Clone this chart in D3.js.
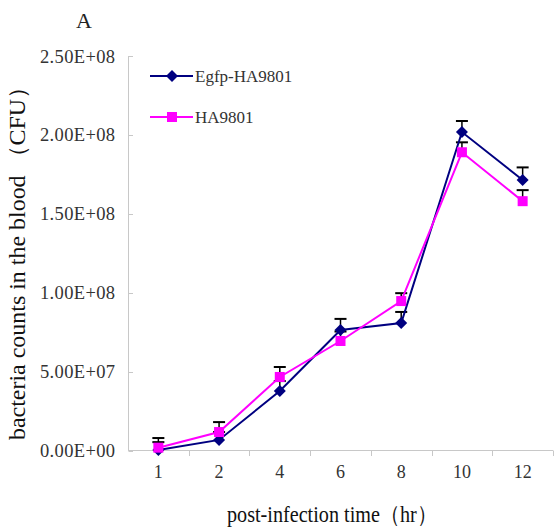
<!DOCTYPE html>
<html>
<head>
<meta charset="utf-8">
<script src="https://cdn.jsdelivr.net/npm/d3@7/dist/d3.min.js"></script>
<style>
  html, body { margin: 0; padding: 0; background: #fff; }
  svg { display: block; }
  svg text { font-family: "Liberation Serif", "DejaVu Serif", serif; }
</style>
</head>
<body>
<svg id="chart" width="556" height="530"></svg>
<script>
const categories = ["1", "2", "4", "6", "8", "10", "12"];
const egfpValues = [0.3e6, 6.7e6, 3.77e7, 7.64e7, 8.08e7, 2.018e8, 1.714e8];
const egfpErrors = [5e6, 5e6, 6.3e6, 7e6, 7e6, 7e6, 8e6];
const haValues = [1.8e6, 1.17e7, 4.66e7, 6.94e7, 9.47e7, 1.89e8, 1.58e8];
const haErrors = [6.1e6, 6.3e6, 6.3e6, 6e6, 5e6, 6.3e6, 7e6];
const yTicks = [0, 5e7, 1e8, 1.5e8, 2e8, 2.5e8];
const seriesNames = ["Egfp-HA9801", "HA9801"];

const svg = d3.select("#chart");

const x = d3.scaleBand().domain(categories).range([128, 553]).padding(0);
const y = d3.scaleLinear().domain([0, 2.5e8]).range([450.5, 56]);

function fmtE(v) {
  if (v === 0) return "0.00E+00";
  const e = Math.floor(Math.log10(v));
  const m = v / Math.pow(10, e);
  return m.toFixed(2) + "E+" + String(e).padStart(2, "0");
}

const axisColor = "#c8c8c8";
svg.append("line").attr("x1", 128.5).attr("x2", 128.5)
  .attr("y1", y(2.5e8)).attr("y2", y(0))
  .attr("stroke", axisColor).attr("stroke-width", 1);
svg.selectAll(".ytick").data(yTicks).enter().append("line")
  .attr("x1", 128.5).attr("x2", 133)
  .attr("y1", d => Math.round(y(d)) + 0.5).attr("y2", d => Math.round(y(d)) + 0.5)
  .attr("stroke", axisColor);
svg.selectAll(".ylab").data(yTicks).enter().append("text")
  .attr("x", 40).attr("y", d => y(d) + 6.5)
  .attr("textLength", 75).attr("lengthAdjust", "spacing")
  .attr("font-size", 18.5).attr("fill", "#333")
  .text(fmtE);

svg.append("line").attr("x1", 128).attr("x2", 553)
  .attr("y1", 450.5).attr("y2", 450.5)
  .attr("stroke", axisColor);
const bounds = categories.map(c => x(c) + x.bandwidth());
svg.selectAll(".xtick").data(bounds).enter().append("line")
  .attr("x1", d => Math.round(d) + 0.5).attr("x2", d => Math.round(d) + 0.5)
  .attr("y1", 450.5).attr("y2", 456)
  .attr("stroke", axisColor);
svg.selectAll(".xlab").data(categories).enter().append("text")
  .attr("x", d => x(d) + x.bandwidth() / 2)
  .attr("y", 478)
  .attr("text-anchor", "middle")
  .attr("font-size", 18).attr("fill", "#333")
  .text(d => d);

svg.append("text").attr("x", 84).attr("y", 28).attr("text-anchor", "middle")
  .attr("font-size", 22).attr("fill", "#222").text("A");
svg.append("text").attr("x", 227).attr("y", 522)
  .attr("textLength", 210).attr("lengthAdjust", "spacingAndGlyphs")
  .attr("font-size", 23).attr("fill", "#111")
  .text("post-infection time（hr）");
svg.append("text")
  .attr("transform", "translate(25,440) rotate(-90)")
  .attr("textLength", 365).attr("lengthAdjust", "spacingAndGlyphs")
  .attr("font-size", 23).attr("fill", "#111")
  .text("bacteria counts in the blood （CFU）");

const cx = d => x(d) + x.bandwidth() / 2;
const series = [
  { name: seriesNames[0], values: egfpValues, errors: egfpErrors, color: "#000080", shape: "diamond" },
  { name: seriesNames[1], values: haValues, errors: haErrors, color: "#ff00ff", shape: "square" }
];

series.forEach(s => {
  const g = svg.append("g");
  categories.forEach((c, i) => {
    const top = y(s.values[i] + s.errors[i]);
    g.append("line").attr("x1", cx(c)).attr("x2", cx(c))
      .attr("y1", y(s.values[i])).attr("y2", top)
      .attr("stroke", "#000").attr("stroke-width", 1.5);
    g.append("line").attr("x1", cx(c) - 6).attr("x2", cx(c) + 6)
      .attr("y1", top).attr("y2", top)
      .attr("stroke", "#000").attr("stroke-width", 2);
  });
});

const line = d3.line().x((d, i) => cx(categories[i])).y(d => y(d));
series.forEach(s => {
  svg.append("path").datum(s.values).attr("d", line)
    .attr("fill", "none").attr("stroke", s.color).attr("stroke-width", 2);
});

function marker(g, shape, color, px, py) {
  if (shape === "diamond") {
    g.append("path")
      .attr("d", `M${px},${py - 6}L${px + 6},${py}L${px},${py + 6}L${px - 6},${py}Z`)
      .attr("fill", color);
  } else {
    g.append("rect").attr("x", px - 5).attr("y", py - 5)
      .attr("width", 10).attr("height", 10).attr("fill", color);
  }
}
series.forEach(s => {
  const g = svg.append("g");
  categories.forEach((c, i) => marker(g, s.shape, s.color, cx(c), y(s.values[i])));
});

series.forEach((s, i) => {
  const ly = 76 + i * 41;
  svg.append("line").attr("x1", 150).attr("x2", 193).attr("y1", ly).attr("y2", ly)
    .attr("stroke", s.color).attr("stroke-width", 2);
  marker(svg, s.shape, s.color, 172, ly);
  svg.append("text").attr("x", 195).attr("y", ly + 6)
    .attr("font-size", 17).attr("fill", "#333")
    .text(s.name);
});
</script>
</body>
</html>
